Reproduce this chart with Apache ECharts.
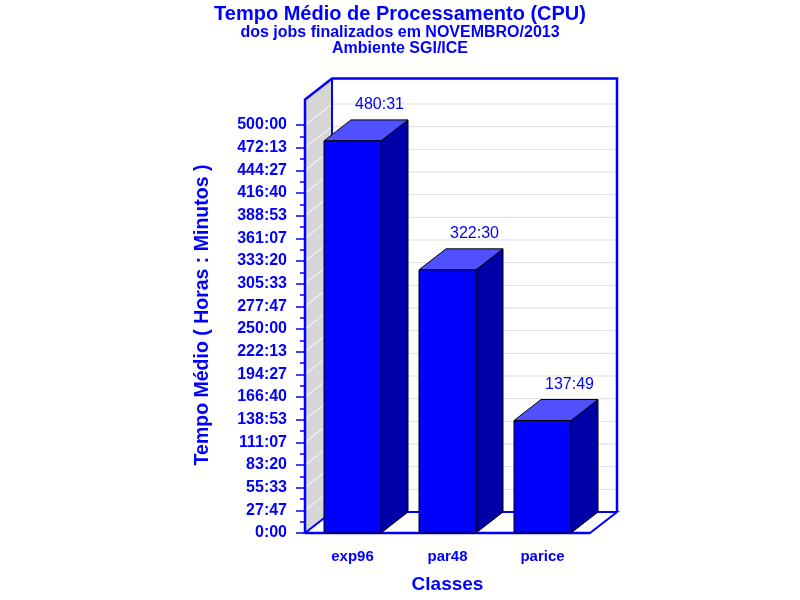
<!DOCTYPE html>
<html>
<head>
<meta charset="utf-8">
<script src="https://cdn.jsdelivr.net/npm/echarts@6/dist/echarts.min.js"></script>
<style>html,body{margin:0;background:#fff}#chart{width:800px;height:600px}</style>
</head>
<body>
<div id="chart"></div>
<script>
// dados do grafico
var classes = ['exp96', 'par48', 'parice'];
var tempos = ['480:31', '322:30', '137:49'];   // horas:minutos
var tickLabels = ['0:00', '27:47', '55:33', '83:20', '111:07', '138:53', '166:40', '194:27', '222:13',
    '250:00', '277:47', '305:33', '333:20', '361:07', '388:53', '416:40', '444:27', '472:13', '500:00'];

var passo = 100000;    // segundos entre marcas do eixo (27:46:40)
var topo = 1912500;    // altura da caixa 3D, em segundos
var dx = 27, dy = -21; // profundidade
var azul = '#0000ff';
var fonte = '"Liberation Sans", Arial, sans-serif';

function segundos(t){
    var p = t.split(':');
    return (parseInt(p[0], 10) * 60 + parseInt(p[1], 10)) * 60;
}

var dadosBarras = [];
for (var i in tempos) {
    dadosBarras.push([Number(i), segundos(tempos[i]), tempos[i]]);
}

// caixa: parede esquerda, fundo, chao e grade
function caixa(params, api){
    var cs = params.coordSys;
    var L = cs.x, R = cs.x + cs.width;
    var B = api.coord([0, 0])[1], T = api.coord([0, topo])[1];
    var kids = [];
    for (var k = 1; k < tickLabels.length; k++) {
        var y = api.coord([0, k * passo])[1];
        kids.push({type: 'line', shape: {x1: L + dx, y1: y + dy, x2: R + dx, y2: y + dy},
            style: {stroke: '#dcdcdc', lineWidth: 1}});
    }
    kids.push({type: 'polygon', shape: {points: [[L, B], [L, T], [L + dx, T + dy], [L + dx, B + dy]]},
        style: {fill: '#d6d6d6'}});
    for (var k = 1; k < tickLabels.length; k++) {
        var y = api.coord([0, k * passo])[1];
        kids.push({type: 'line', shape: {x1: L, y1: y, x2: L + dx, y2: y + dy},
            style: {stroke: '#ffffff', lineWidth: 1}});
    }
    kids.push({type: 'polygon', shape: {points: [[L, B], [R, B], [R + dx, B + dy], [L + dx, B + dy]]},
        style: {fill: '#ffffff', stroke: azul, lineWidth: 2}});
    kids.push({type: 'polyline', shape: {points: [[L, B], [L, T], [L + dx, T + dy], [R + dx, T + dy], [R + dx, B + dy]]},
        style: {fill: 'none', stroke: azul, lineWidth: 2.5}});
    kids.push({type: 'line', shape: {x1: L + dx, y1: T + dy, x2: L + dx, y2: B + dy},
        style: {stroke: azul, lineWidth: 2}});
    kids.push({type: 'line', shape: {x1: L, y1: B, x2: R, y2: B},
        style: {stroke: azul, lineWidth: 2.5}});
    return {type: 'group', children: kids};
}

// barra 3D
function barra(params, api){
    var base = api.coord([api.value(0), 0]);
    var top = api.coord([api.value(0), api.value(1)]);
    var w = api.size([1, 0])[0] * 0.6;
    var l = top[0] - w / 2, r = top[0] + w / 2, t = top[1], b = base[1];
    var borda = {stroke: '#000000', lineWidth: 1};
    return {type: 'group', children: [
        {type: 'polygon', shape: {points: [[r, t], [r + dx, t + dy], [r + dx, b + dy], [r, b]]},
            style: Object.assign({fill: '#0000a8'}, borda)},
        {type: 'polygon', shape: {points: [[l, t], [l + dx, t + dy], [r + dx, t + dy], [r, t]]},
            style: Object.assign({fill: '#5050ff'}, borda)},
        {type: 'rect', shape: {x: l, y: t, width: w, height: b - t},
            style: Object.assign({fill: '#0000ff'}, borda)},
        {type: 'text', style: {text: api.value(2), x: top[0] + dx, y: t + dy - 15,
            align: 'center', verticalAlign: 'middle', textAlign: 'center', textVerticalAlign: 'middle',
            fill: azul, font: '16px ' + fonte}}
    ]};
}

var chartDom = document.getElementById('chart');
var myChart = echarts.init(chartDom);
var option;

option = {
    animation: false,
    backgroundColor: '#ffffff',
    title: {
        text: 'Tempo Médio de Processamento (CPU)',
        subtext: 'dos jobs finalizados em NOVEMBRO/2013\nAmbiente SGI/ICE',
        left: 'center',
        top: 4,
        padding: 0,
        itemGap: 1,
        textStyle: {color: azul, fontSize: 20, fontWeight: 'bold', fontFamily: fonte, lineHeight: 20},
        subtextStyle: {color: azul, fontSize: 16, fontWeight: 'bold', fontFamily: fonte, lineHeight: 16}
    },
    grid: {left: 305, right: 210, top: 125, bottom: 67},
    xAxis: {
        type: 'category',
        data: classes,
        axisLine: {show: false},
        axisTick: {show: false},
        axisLabel: {color: azul, fontSize: 15, fontWeight: 'bold', fontFamily: fonte, margin: 16},
        name: 'Classes',
        nameLocation: 'middle',
        nameGap: 42,
        nameTextStyle: {color: azul, fontSize: 19, fontWeight: 'bold', fontFamily: fonte}
    },
    yAxis: {
        type: 'value',
        min: 0,
        max: passo * (tickLabels.length - 1),
        interval: passo,
        axisLine: {show: false},
        axisTick: {show: true, length: 9, lineStyle: {color: azul, width: 1.5}},
        minorTick: {show: true, splitNumber: 2, length: 5, lineStyle: {color: azul, width: 1.5}},
        splitLine: {show: false},
        axisLabel: {
            color: azul, fontSize: 16, fontWeight: 'bold', fontFamily: fonte, margin: 18,
            formatter: function(v){ return tickLabels[Math.round(v / passo)]; }
        },
        name: 'Tempo Médio ( Horas : Minutos )',
        nameLocation: 'middle',
        nameGap: 92,
        nameRotate: 90,
        nameTextStyle: {color: azul, fontSize: 19.5, fontWeight: 'bold', fontFamily: fonte,
            padding: [0, 0, 0, 28]}
    },
    series: [
        {type: 'custom', renderItem: caixa, data: [[0, 0]], z: 1, silent: true},
        {type: 'custom', renderItem: barra, data: dadosBarras, z: 2,
            encode: {x: 0, y: 1}}
    ]
};

option && myChart.setOption(option);
</script>
</body>
</html>
